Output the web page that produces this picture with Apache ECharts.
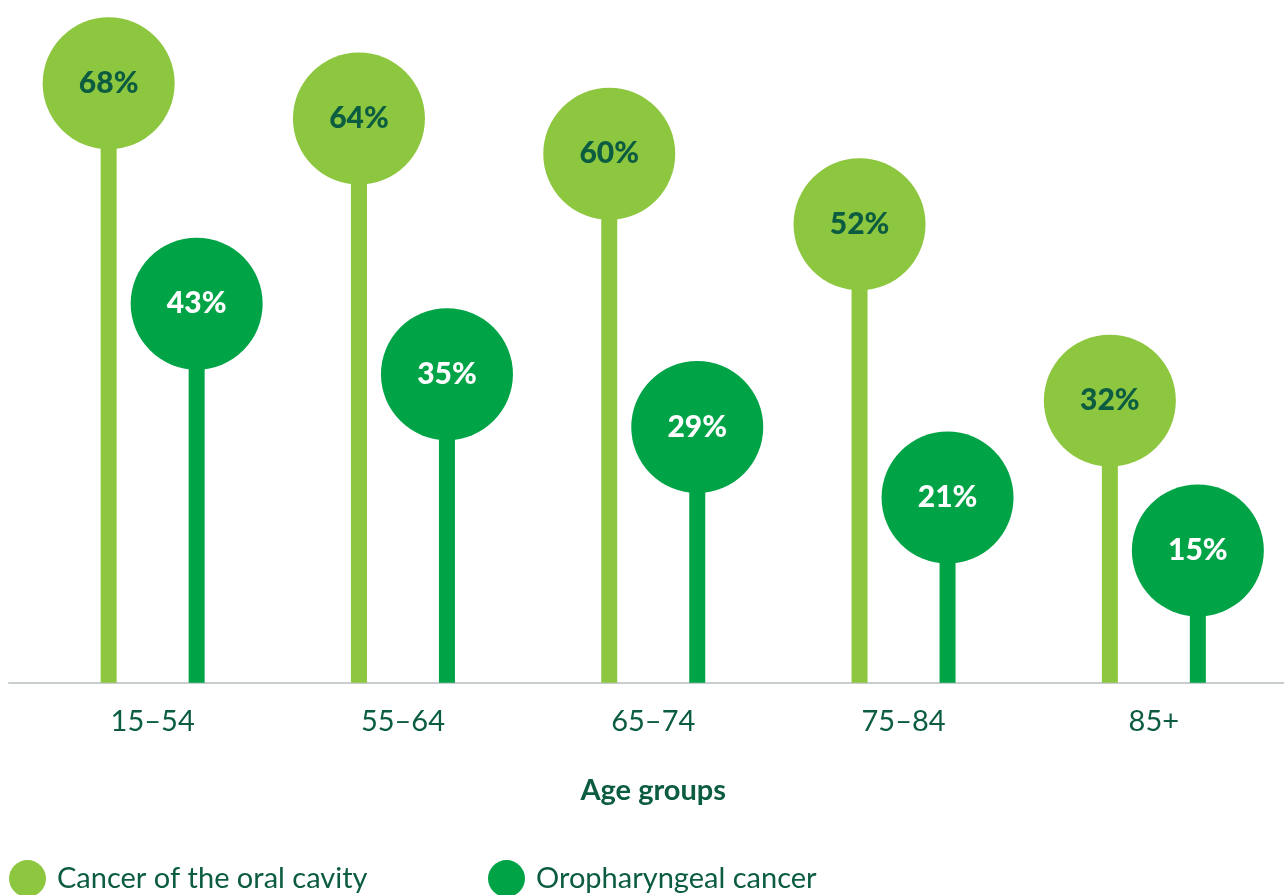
<!DOCTYPE html>
<html>
<head>
<meta charset="utf-8">
<title>Age groups</title>
<script src="https://cdn.jsdelivr.net/npm/echarts@6/dist/echarts.min.js"></script>
<style>
  html, body { margin: 0; padding: 0; background: #ffffff; }
  #chart { width: 1284px; height: 895px; }
</style>
</head>
<body>
<div id="chart"></div>
<script>
// Age groups on the category axis
const ageGroups = ['15\u201354', '55\u201364', '65\u201374', '75\u201384', '85+'];
// Percentages per age group
const oralCavity = [68, 64, 60, 52, 32];
const oropharyngeal = [43, 35, 29, 21, 15];
const seriesNames = ['Cancer of the oral cavity', 'Oropharyngeal cancer'];

const LIGHT = '#8dc63f';
const DARK = '#00a346';
const INK = '#0b5c40';
const FONT = 'Lato, "Open Sans", "Noto Sans", sans-serif';

// one stem (bar) per value, topped by a round head carrying the value
function lollipop(name, values, color, textColor) {
  return {
    name: name,
    type: 'bar',
    xAxisIndex: 0,
    yAxisIndex: 0,
    barWidth: 16,
    barGap: '450%',
    itemStyle: { color: color },
    data: values,
    silent: true,
    markPoint: {
      silent: true,
      symbol: 'circle',
      symbolSize: 132,
      itemStyle: { color: color },
      label: {
        show: true,
        position: 'inside',
        formatter: '{c}%',
        fontFamily: FONT,
        fontSize: 30,
        fontWeight: 900,
        color: textColor
      },
      data: values.map((v, i) => ({ coord: [i, v], value: v }))
    }
  };
}

const chart = echarts.init(document.getElementById('chart'), null, { renderer: 'canvas' });

chart.setOption({
  animation: false,
  backgroundColor: '#ffffff',
  grid: [
    { left: 27.5, right: 5, top: 21.6, bottom: 212.3 },
    { left: 9, right: 0, top: 21.6, bottom: 212.3 }
  ],
  xAxis: [
    {
      type: 'category',
      gridIndex: 0,
      data: ageGroups,
      axisLine: { show: false },
      axisTick: { show: false },
      axisLabel: {
        margin: 24,
        fontFamily: FONT,
        fontSize: 29,
        color: INK
      },
      name: 'Age groups',
      nameLocation: 'middle',
      nameGap: 93,
      nameTextStyle: {
        fontFamily: FONT,
        fontSize: 29,
        fontWeight: 'bold',
        color: INK
      }
    },
    {
      // baseline running the full width
      type: 'value',
      gridIndex: 1,
      min: 0,
      max: 1,
      axisLine: { show: true, onZero: false, lineStyle: { color: '#c8cdd0', width: 2 } },
      axisTick: { show: false },
      axisLabel: { show: false },
      splitLine: { show: false }
    }
  ],
  yAxis: [
    { type: 'value', gridIndex: 0, min: 0, max: 75, show: false, splitLine: { show: false } },
    { type: 'value', gridIndex: 1, min: 0, max: 1, show: false, splitLine: { show: false } }
  ],
  legend: [
    {
      data: [seriesNames[0]],
      left: 9,
      top: 860,
      padding: 0,
      icon: 'circle',
      itemWidth: 37,
      itemHeight: 37,
      selectedMode: false,
      textStyle: { fontFamily: FONT, fontSize: 29, color: INK, padding: [0, 0, 0, 6] }
    },
    {
      data: [seriesNames[1]],
      left: 488,
      top: 860,
      padding: 0,
      icon: 'circle',
      itemWidth: 37,
      itemHeight: 37,
      selectedMode: false,
      textStyle: { fontFamily: FONT, fontSize: 29, color: INK, padding: [0, 0, 0, 6] }
    }
  ],
  series: [
    lollipop(seriesNames[0], oralCavity, LIGHT, INK),
    lollipop(seriesNames[1], oropharyngeal, DARK, '#ffffff')
  ]
});
</script>
</body>
</html>
